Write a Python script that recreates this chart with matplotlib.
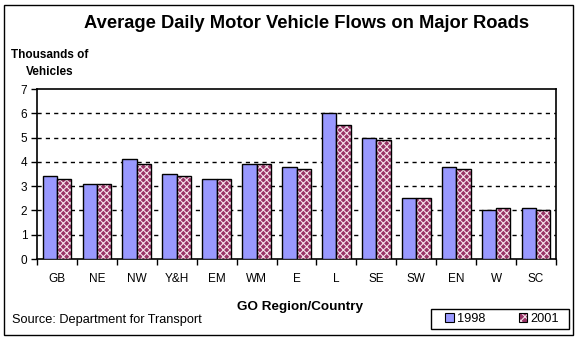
import matplotlib
matplotlib.use("Agg")
import matplotlib.pyplot as plt
import numpy as np
from matplotlib.patches import Rectangle, Patch

plt.rcParams['font.family'] = ['Liberation Sans', 'DejaVu Sans']
plt.rcParams['hatch.linewidth'] = 0.8

categories = ["GB", "NE", "NW", "Y&H", "EM", "WM", "E", "L", "SE", "SW", "EN", "W", "SC"]
flows_1998 = [3.4, 3.1, 4.1, 3.5, 3.3, 3.9, 3.8, 6.0, 5.0, 2.5, 3.8, 2.0, 2.1]
flows_2001 = [3.3, 3.1, 3.9, 3.4, 3.3, 3.9, 3.7, 5.5, 4.9, 2.5, 3.7, 2.1, 2.0]
yticks = [0, 1, 2, 3, 4, 5, 6, 7]

W, H = 576, 342
fig = plt.figure(figsize=(W / 100, H / 100), dpi=100)

def fx(px):
    return px / W

def fy(py):
    return 1 - py / H

# outer border
fig.add_artist(Rectangle((fx(4), fy(335)), fx(573) - fx(4), fy(5) - fy(335),
                         transform=fig.transFigure, fill=False, edgecolor='black', linewidth=1.0))

ax = fig.add_axes([fx(37), fy(259), fx(556) - fx(37), fy(89) - fy(259)])
x = np.arange(len(categories))
bw = 0.36
ax.bar(x - bw / 2, flows_1998, bw, color='#9999ff', edgecolor='black', linewidth=1.0, zorder=3)
ax.bar(x + bw / 2, flows_2001, bw, color='#993366', edgecolor='#f4e0ea', hatch='xxxxx', linewidth=0, zorder=3)
ax.bar(x + bw / 2, flows_2001, bw, color='none', edgecolor='black', linewidth=1.0, zorder=4)

ax.set_xlim(-0.5, len(categories) - 0.5)
ax.set_ylim(0, 7)
ax.set_yticks(yticks)
ax.set_xticks(x)
ax.set_xticklabels(categories, fontsize=8.5)
ax.tick_params(axis='x', length=0, pad=10)
ax.set_xticks(np.arange(len(categories) + 1) - 0.5, minor=True)
ax.tick_params(axis='x', which='minor', length=4, direction='out', width=1)
ax.tick_params(axis='y', length=4, direction='out', width=1, labelsize=8.5, pad=3)
for yv in yticks[1:-1]:
    ax.axhline(yv, color='black', linestyle=(0, (3, 3)), linewidth=1.0, zorder=1)
for s in ax.spines.values():
    s.set_linewidth(1.2)

fig.text(fx(307), fy(23), "Average Daily Motor Vehicle Flows on Major Roads",
         ha='center', va='center', fontsize=13.2, fontweight='bold')
fig.text(fx(50), fy(63.5), "Thousands of\nVehicles", ha='center', va='center',
         fontsize=8.5, fontweight='bold', linespacing=1.5, multialignment='center')
fig.text(fx(300), fy(307), "GO Region/Country", ha='center', va='center',
         fontsize=9.7, fontweight='bold')
fig.text(fx(12), fy(320), "Source: Department for Transport", ha='left', va='center', fontsize=9.2)

# legend frame
fig.add_artist(Rectangle((fx(431), fy(329)), fx(569) - fx(431), fy(309) - fy(329),
                         transform=fig.transFigure, fill=False, edgecolor='black', linewidth=1.0))
handles = [Patch(facecolor='#9999ff', edgecolor='black', linewidth=0.8),
           (Patch(facecolor='#993366', edgecolor='#f4e0ea', hatch='xxxx', linewidth=0),
            Patch(facecolor='none', edgecolor='black', linewidth=0.8))]
leg = fig.legend(handles, ["1998", "2001"], ncol=2, loc='center',
                 bbox_to_anchor=(fx(502), fy(319)), fontsize=9.2, frameon=False,
                 handlelength=0.7, handleheight=0.7,
                 columnspacing=2.6, handletextpad=0.25, borderpad=0.35, borderaxespad=0)

fig.savefig("out.png", dpi=100)
